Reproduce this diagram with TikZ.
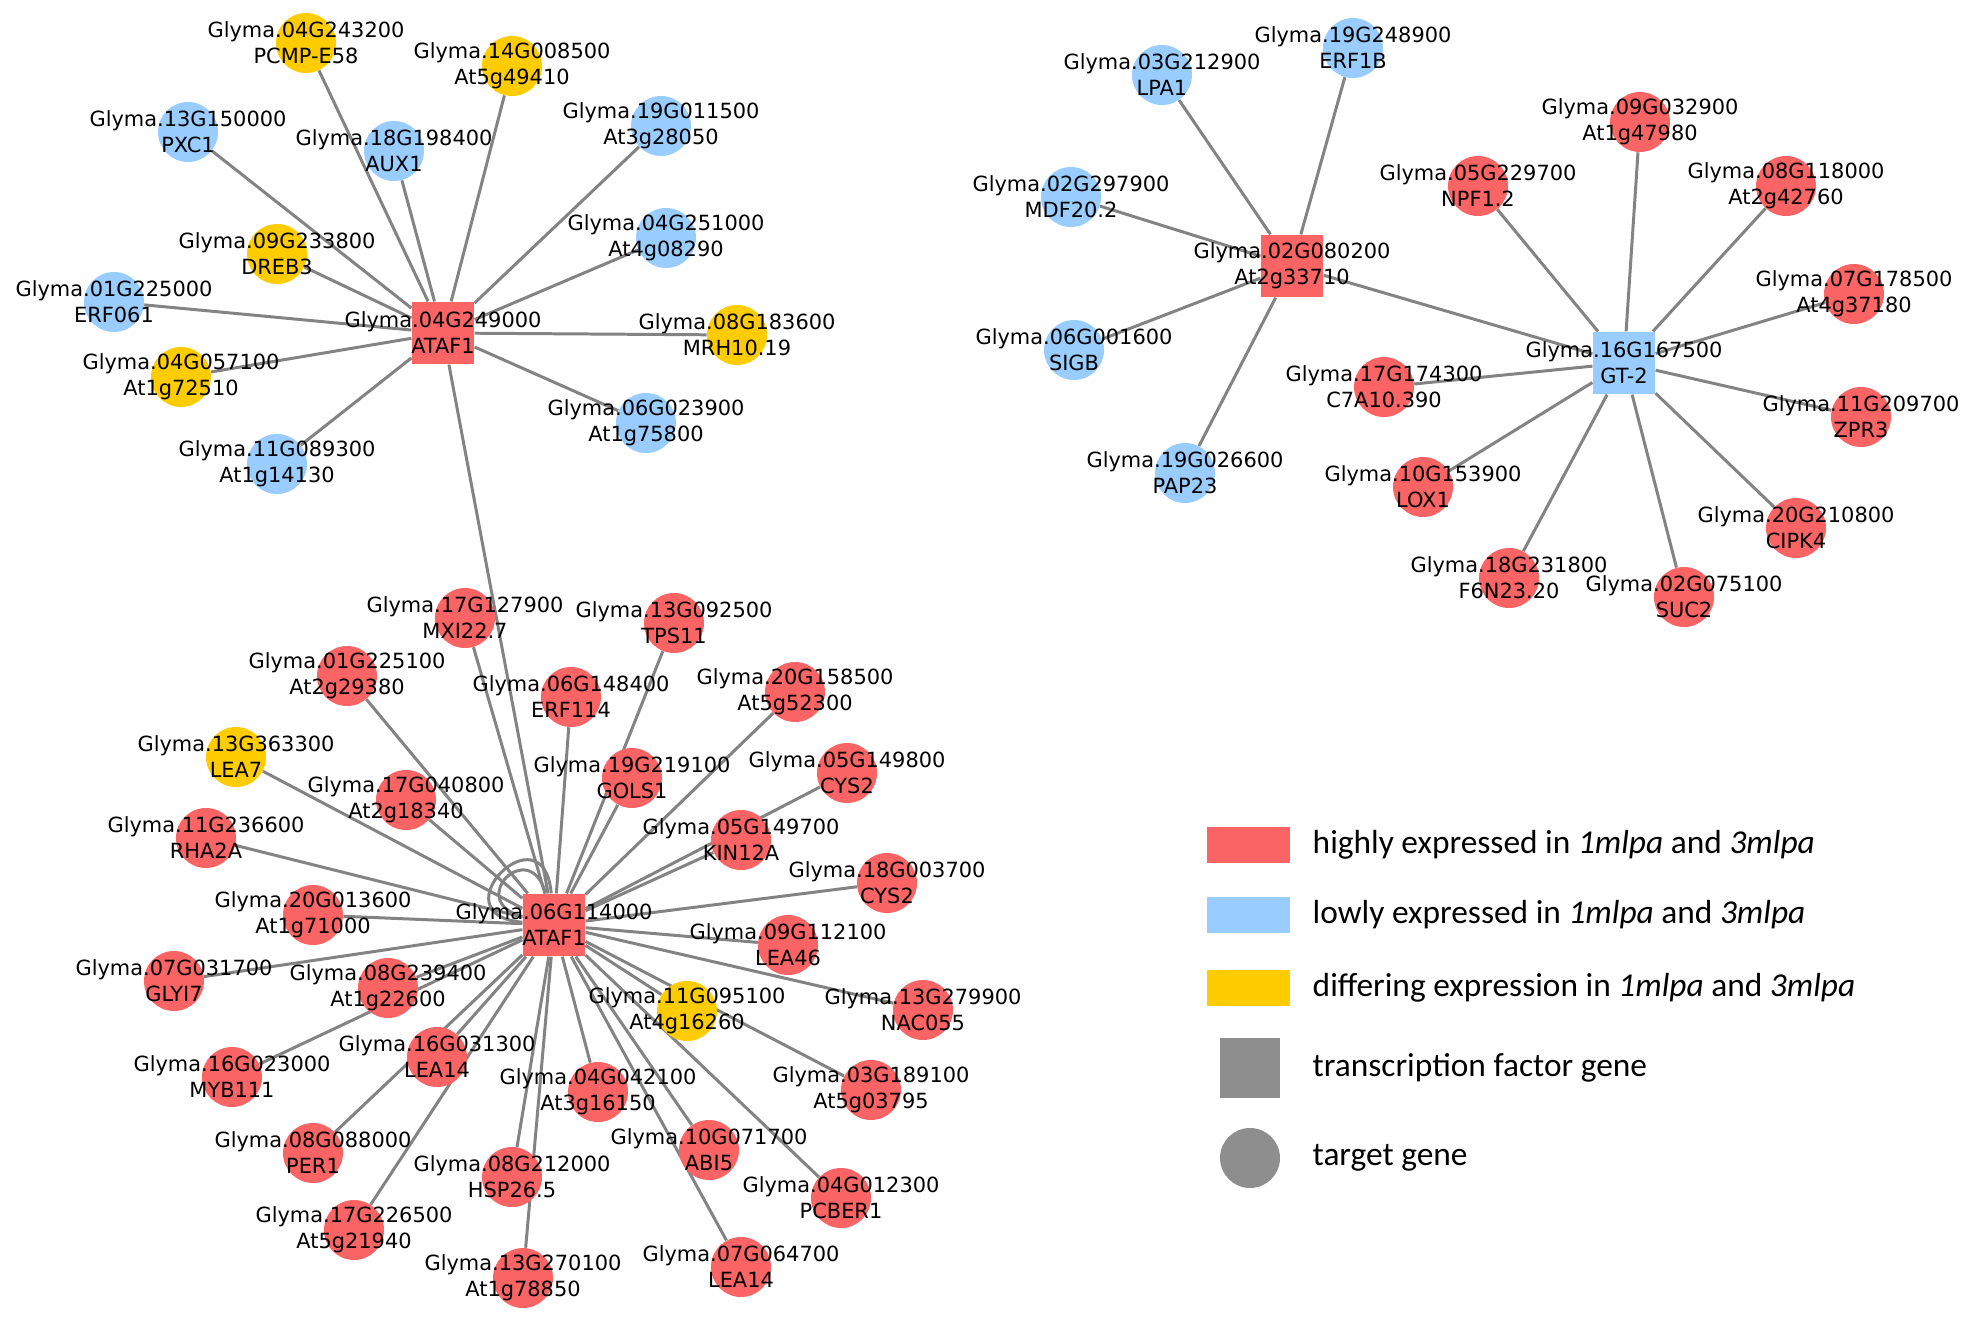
\documentclass[tikz,border=0pt]{standalone}
\usepackage{fontspec}
\usepackage{tikz}
\usetikzlibrary{positioning, backgrounds}
\newfontfamily\lblfont{DejaVu Sans}
\newfontfamily\legfont{Carlito}
\definecolor{hired}{HTML}{FA6464}
\definecolor{loblue}{HTML}{99CCFF}
\definecolor{difyellow}{HTML}{FFCC00}
\definecolor{edgegray}{HTML}{838383}
\definecolor{leggray}{HTML}{8E8E8E}

\begin{document}
\begin{tikzpicture}[
    x=0.2mm, y=-0.2mm,
    target/.style={circle, minimum size=1.2cm, inner sep=0pt},
    tf/.style={rectangle, minimum size=1.25cm, inner sep=0pt},
    hi/.style={target, fill=hired},
    lo/.style={target, fill=loblue},
    dif/.style={target, fill=difyellow},
    lbl/.style={align=center, inner sep=0pt, font=\lblfont\fontsize{11.9}{14.8}\selectfont},
    link/.style={draw=edgegray, line width=1.7pt},
    legbox/.style={rectangle, minimum width=1.66cm, minimum height=0.72cm, inner sep=0pt},
    legtext/.style={inner sep=0pt, font=\legfont\fontsize{19}{22}\selectfont}
]
\useasboundingbox (0,0) rectangle (1961,1321);

% ATAF1 (04G249000) network
\node[tf, fill=hired, label={[lbl]center:Glyma.04G249000\\ATAF1}] (hubA) at (443,333) {};
\node[dif, label={[lbl]center:Glyma.04G243200\\PCMP-E58}] (pcmp) at (306,43) {};
\node[dif, label={[lbl]center:Glyma.14G008500\\At5g49410}] (at5g49410) at (512,66) {};
\node[lo, label={[lbl]center:Glyma.13G150000\\PXC1}] (pxc) at (188,132) {};
\node[lo, label={[lbl]center:Glyma.18G198400\\AUX1}] (aux) at (394,151) {};
\node[lo, label={[lbl]center:Glyma.19G011500\\At3g28050}] (at3g28050) at (661,126) {};
\node[lo, label={[lbl]center:Glyma.04G251000\\At4g08290}] (at4g08290) at (666,238) {};
\node[dif, label={[lbl]center:Glyma.09G233800\\DREB3}] (dreb) at (277,254) {};
\node[lo, label={[lbl]center:Glyma.01G225000\\ERF061}] (erf061) at (114,302) {};
\node[dif, label={[lbl]center:Glyma.08G183600\\MRH10.19}] (mrh) at (737,335) {};
\node[dif, label={[lbl]center:Glyma.04G057100\\At1g72510}] (at1g72510) at (181,377) {};
\node[lo, label={[lbl]center:Glyma.06G023900\\At1g75800}] (at1g75800) at (646,423) {};
\node[lo, label={[lbl]center:Glyma.11G089300\\At1g14130}] (at1g14130) at (277,464) {};

% At2g33710 / GT-2 network
\node[tf, fill=hired, label={[lbl]center:Glyma.02G080200\\At2g33710}] (hubB) at (1292,266) {};
\node[lo, label={[lbl]center:Glyma.19G248900\\ERF1B}] (erf1b) at (1353,48) {};
\node[lo, label={[lbl]center:Glyma.03G212900\\LPA1}] (lpa1) at (1162,75) {};
\node[lo, label={[lbl]center:Glyma.02G297900\\MDF20.2}] (mdf) at (1071,197) {};
\node[lo, label={[lbl]center:Glyma.06G001600\\SIGB}] (sigb) at (1074,350) {};
\node[lo, label={[lbl]center:Glyma.19G026600\\PAP23}] (pap23) at (1185,473) {};
\node[tf, fill=loblue, label={[lbl]center:Glyma.16G167500\\GT-2}] (hubC) at (1624,363) {};
\node[hi, label={[lbl]center:Glyma.09G032900\\At1g47980}] (at1g47980) at (1640,122) {};
\node[hi, label={[lbl]center:Glyma.05G229700\\NPF1.2}] (npf) at (1478,186) {};
\node[hi, label={[lbl]center:Glyma.08G118000\\At2g42760}] (at2g42760) at (1786,186) {};
\node[hi, label={[lbl]center:Glyma.07G178500\\At4g37180}] (at4g37180) at (1854,294) {};
\node[hi, label={[lbl]center:Glyma.17G174300\\C7A10.390}] (c7a) at (1384,387) {};
\node[hi, label={[lbl]center:Glyma.11G209700\\ZPR3}] (zpr3) at (1861,417) {};
\node[hi, label={[lbl]center:Glyma.10G153900\\LOX1}] (lox1) at (1423,487) {};
\node[hi, label={[lbl]center:Glyma.20G210800\\CIPK4}] (cipk4) at (1796,528) {};
\node[hi, label={[lbl]center:Glyma.18G231800\\F6N23.20}] (f6n) at (1509,578) {};
\node[hi, label={[lbl]center:Glyma.02G075100\\SUC2}] (suc2) at (1684,597) {};

% ATAF1 (06G114000) network
\node[tf, fill=hired, label={[lbl]center:Glyma.06G114000\\ATAF1}] (hubD) at (554,925) {};
\node[hi, label={[lbl]center:Glyma.17G127900\\MXI22.7}] (mxi) at (465,618) {};
\node[hi, label={[lbl]center:Glyma.13G092500\\TPS11}] (tps11) at (674,623) {};
\node[hi, label={[lbl]center:Glyma.01G225100\\At2g29380}] (at2g29380) at (347,676) {};
\node[hi, label={[lbl]center:Glyma.06G148400\\ERF114}] (erf114) at (571,697) {};
\node[hi, label={[lbl]center:Glyma.20G158500\\At5g52300}] (at5g52300) at (795,692) {};
\node[dif, label={[lbl]center:Glyma.13G363300\\LEA7}] (lea7) at (236,757) {};
\node[hi, label={[lbl]center:Glyma.17G040800\\At2g18340}] (at2g18340) at (406,800) {};
\node[hi, label={[lbl]center:Glyma.19G219100\\GOLS1}] (gols1) at (632,778) {};
\node[hi, label={[lbl]center:Glyma.05G149800\\CYS2}] (cys2a) at (847,773) {};
\node[hi, label={[lbl]center:Glyma.11G236600\\RHA2A}] (rha2a) at (206,838) {};
\node[hi, label={[lbl]center:Glyma.05G149700\\KIN12A}] (kin12a) at (741,840) {};
\node[hi, label={[lbl]center:Glyma.18G003700\\CYS2}] (cys2b) at (887,883) {};
\node[hi, label={[lbl]center:Glyma.20G013600\\At1g71000}] (at1g71000) at (313,915) {};
\node[hi, label={[lbl]center:Glyma.09G112100\\LEA46}] (lea46) at (788,945) {};
\node[hi, label={[lbl]center:Glyma.07G031700\\GLYI7}] (glyi7) at (174,981) {};
\node[hi, label={[lbl]center:Glyma.08G239400\\At1g22600}] (at1g22600) at (388,988) {};
\node[dif, label={[lbl]center:Glyma.11G095100\\At4g16260}] (at4g16260) at (687,1011) {};
\node[hi, label={[lbl]center:Glyma.13G279900\\NAC055}] (nac055) at (923,1010) {};
\node[hi, label={[lbl]center:Glyma.16G031300\\LEA14}] (lea14a) at (437,1057) {};
\node[hi, label={[lbl]center:Glyma.16G023000\\MYB111}] (myb111) at (232,1077) {};
\node[hi, label={[lbl]center:Glyma.04G042100\\At3g16150}] (at3g16150) at (598,1092) {};
\node[hi, label={[lbl]center:Glyma.03G189100\\At5g03795}] (at5g03795) at (871,1090) {};
\node[hi, label={[lbl]center:Glyma.08G088000\\PER1}] (per1) at (313,1153) {};
\node[hi, label={[lbl]center:Glyma.10G071700\\ABI5}] (abi5) at (709,1150) {};
\node[hi, label={[lbl]center:Glyma.08G212000\\HSP26.5}] (hsp) at (512,1177) {};
\node[hi, label={[lbl]center:Glyma.04G012300\\PCBER1}] (pcber1) at (841,1198) {};
\node[hi, label={[lbl]center:Glyma.17G226500\\At5g21940}] (at5g21940) at (354,1230) {};
\node[hi, label={[lbl]center:Glyma.13G270100\\At1g78850}] (at1g78850) at (523,1278) {};
\node[hi, label={[lbl]center:Glyma.07G064700\\LEA14}] (lea14b) at (741,1267) {};

% Edges
\begin{scope}[on background layer]
\path[link] (hubA) edge (pcmp) edge (at5g49410) edge (pxc) edge (aux)
    edge (at3g28050) edge (at4g08290) edge (dreb) edge (erf061) edge (mrh)
    edge (at1g72510) edge (at1g75800) edge (at1g14130) edge (hubD);
\path[link] (hubB) edge (erf1b) edge (lpa1) edge (mdf) edge (sigb) edge (pap23) edge (hubC);
\path[link] (hubC) edge (at1g47980) edge (npf) edge (at2g42760) edge (at4g37180)
    edge (c7a) edge (zpr3) edge (lox1) edge (cipk4) edge (f6n) edge (suc2);
\path[link] (hubD) edge (mxi) edge (tps11) edge (at2g29380) edge (erf114)
    edge (at5g52300) edge (lea7) edge (at2g18340) edge (gols1) edge (cys2a)
    edge (rha2a) edge (kin12a) edge (cys2b) edge (at1g71000) edge (lea46)
    edge (glyi7) edge (at1g22600) edge (at4g16260) edge (nac055) edge (lea14a)
    edge (myb111) edge (at3g16150) edge (at5g03795) edge (per1) edge (abi5)
    edge (hsp) edge (pcber1) edge (at5g21940) edge (at1g78850) edge (lea14b);
\draw[link] (hubD) to[out=95, in=175, distance=1.75cm] (hubD);
\draw[link] (hubD) to[out=105, in=165, distance=1.2cm] (hubD);
\end{scope}

% Legend
\node[legbox, fill=hired] (leghi) at (1248,845) {};
\node[legtext, right=0.45cm of leghi] (leghitxt) {highly expressed in \textit{1mlpa} and \textit{3mlpa}};
\node[legbox, fill=loblue] (leglo) at (1248,915) {};
\node[legtext, right=0.45cm of leglo] (leglotxt) {lowly expressed in \textit{1mlpa} and \textit{3mlpa}};
\node[legbox, fill=difyellow] (legdif) at (1248,988) {};
\node[legtext, right=0.45cm of legdif] (legdiftxt) {differing expression in \textit{1mlpa} and \textit{3mlpa}};
\node[rectangle, minimum size=1.2cm, inner sep=0pt, fill=leggray] (legtf) at (1250,1068) {};
\node[legtext, right=0.64cm of legtf] (legtftxt) {transcription factor gene};
\node[circle, minimum size=1.2cm, inner sep=0pt, fill=leggray] (legtg) at (1250,1158) {};
\node[legtext, right=0.64cm of legtg] (legtgtxt) {target gene};

\end{tikzpicture}
\end{document}
